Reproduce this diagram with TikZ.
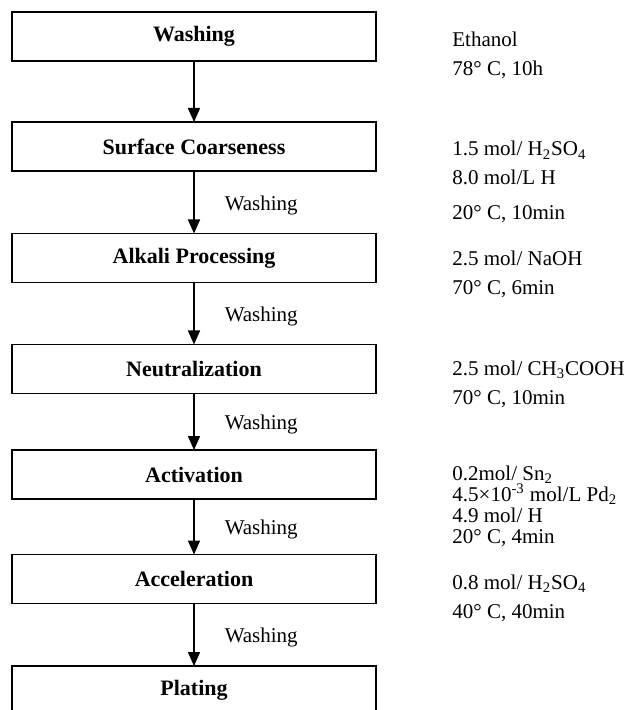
\documentclass[tikz,border=0pt]{standalone}
\usepackage{fontspec}
\setmainfont{Liberation Serif}
\usetikzlibrary{arrows.meta, positioning}
\tikzset{
  proc box/.style={
    rectangle, draw=black, line width=0.75pt,
    minimum width=182pt, minimum height=24.5pt,
    inner sep=0pt, outer sep=0pt,
    font=\fontsize{11}{13}\selectfont\bfseries
  },
  proc arrow/.style={
    -{Triangle[width=6pt,length=7pt]}, line width=0.75pt
  },
  wash label/.style={
    font=\fontsize{10.5}{12}\selectfont, anchor=west,
    inner sep=0pt, xshift=15pt, yshift=-1.5pt
  },
  cond text/.style={
    font=\fontsize{10.5}{14.5}\selectfont, align=left,
    anchor=base west, inner sep=0pt
  }
}

\begin{document}
\begin{tikzpicture}[x=0.5pt, y=-0.5pt, node distance=31.25pt]
  \clip (0,0) rectangle (630,710);

  \node (wash) [proc box] at (194,36.5) {Washing};
  \node (coarse) [proc box, below=30.5pt of wash] {Surface Coarseness};
  \node (alkali) [proc box, below=of coarse] {Alkali Processing};
  \node (neutral) [proc box, below=31pt of alkali] {Neutralization};
  \node (activ) [proc box, below=28.25pt of neutral] {Activation};
  \node (accel) [proc box, below=27.75pt of activ] {Acceleration};
  \node (plating) [proc box, below=of accel] {Plating};

  \draw [proc arrow] (wash) -- (coarse);
  \draw [proc arrow] (coarse) -- node [wash label] {Washing} (alkali);
  \draw [proc arrow] (alkali) -- node [wash label] {Washing} (neutral);
  \draw [proc arrow] (neutral) -- node [wash label] {Washing} (activ);
  \draw [proc arrow] (activ) -- node [wash label] {Washing} (accel);
  \draw [proc arrow] (accel) -- node [wash label] {Washing} (plating);

  % conditions (anchored at the baseline of the last line)
  \node (c wash) [cond text] at (452,76) {Ethanol\\78° C, 10h};
  \node (c coarse) [cond text] at (452,220)
    {1.5 mol/ H\textsubscript{2}SO\textsubscript{4}\\8.0 mol/L H\\[3pt]20° C, 10min};
  \node (c alkali) [cond text] at (452,295) {2.5 mol/ NaOH\\70° C, 6min};
  \node (c neutral) [cond text] at (452,404)
    {2.5 mol/ CH\textsubscript{3}COOH\\70° C, 10min};
  \node (c activ) [cond text, font=\fontsize{10.5}{10.5}\selectfont] at (452,543)
    {0.2mol/ Sn\textsubscript{2}\\4.5×10\textsuperscript{-3} mol/L Pd\textsubscript{2}\\4.9 mol/ H\\20° C, 4min};
  \node (c accel) [cond text] at (452,618)
    {0.8 mol/ H\textsubscript{2}SO\textsubscript{4}\\40° C, 40min};
\end{tikzpicture}
\end{document}
